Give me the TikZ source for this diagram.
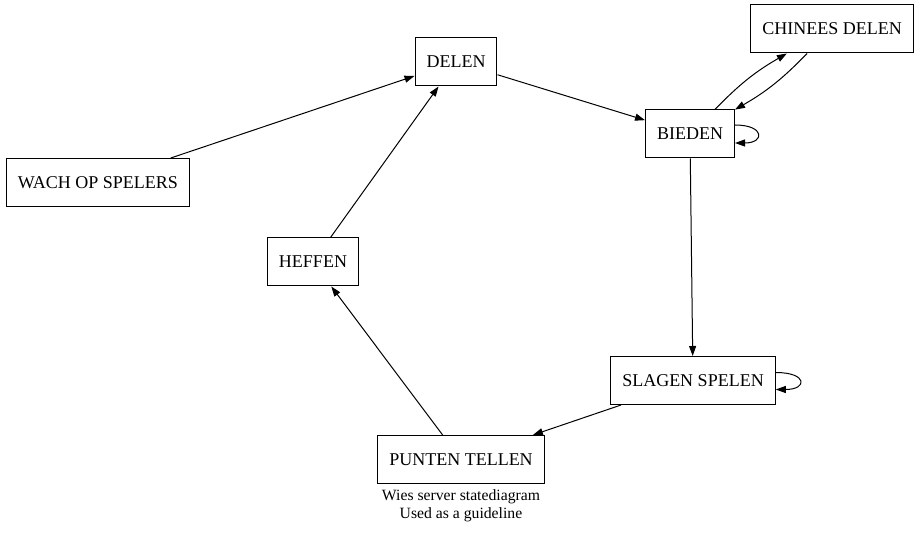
\documentclass[tikz,border=0pt]{standalone}
\usepackage{fontspec}
\setmainfont{Liberation Serif}
\usetikzlibrary{arrows.meta}

\begin{document}
\begin{tikzpicture}[x=1pt,y=-1pt,
		state/.style={draw,line width=1pt,inner xsep=11.5pt,minimum height=48pt,
			font=\fontsize{18}{21}\selectfont},
		edge/.style={line width=1pt,-{Triangle[length=10pt,width=7pt]}},
		]
		
		\useasboundingbox (0,0) rectangle (919,534);
		
		\node[state] (delen) at (456,62) {DELEN};
		\node[state] (wach) at (98,182.5) {WACH OP SPELERS};
		\node[state] (heffen) at (313,262) {HEFFEN};
		\node[state] (bieden) at (690,134) {BIEDEN};
		\node[state] (chinees) at (832,29) {CHINEES DELEN};
		\node[state] (slagen) at (693,380.5) {SLAGEN SPELEN};
		\node[state] (punten) at (461,459.5) {PUNTEN TELLEN};
		
		\node[align=center,font=\fontsize{15.7}{18}\selectfont] (caption) at (461,506)
			{Wies server statediagram\\Used as a guideline};
		
		
		\draw[edge] (wach) -- (delen);
		\draw[edge] (heffen) -- (delen);
		\draw[edge] (delen) -- (bieden);
		
		\draw[edge] (bieden) to[bend left=8] (chinees);
		\draw[edge] (chinees) to[bend left=8] (bieden);
		
		\draw[edge] ([yshift=9pt]bieden.east) to[out=0,in=0,distance=30pt] ([yshift=-9pt]bieden.east);
		
		\draw[edge] (bieden) -- (slagen);
		\draw[edge] ([yshift=8pt]slagen.east) to[out=0,in=0,distance=32pt] ([yshift=-9pt]slagen.east);
		
		\draw[edge] (slagen) -- (punten);
		\draw[edge] (punten) -- (heffen);
		
	\end{tikzpicture}
\end{document}
